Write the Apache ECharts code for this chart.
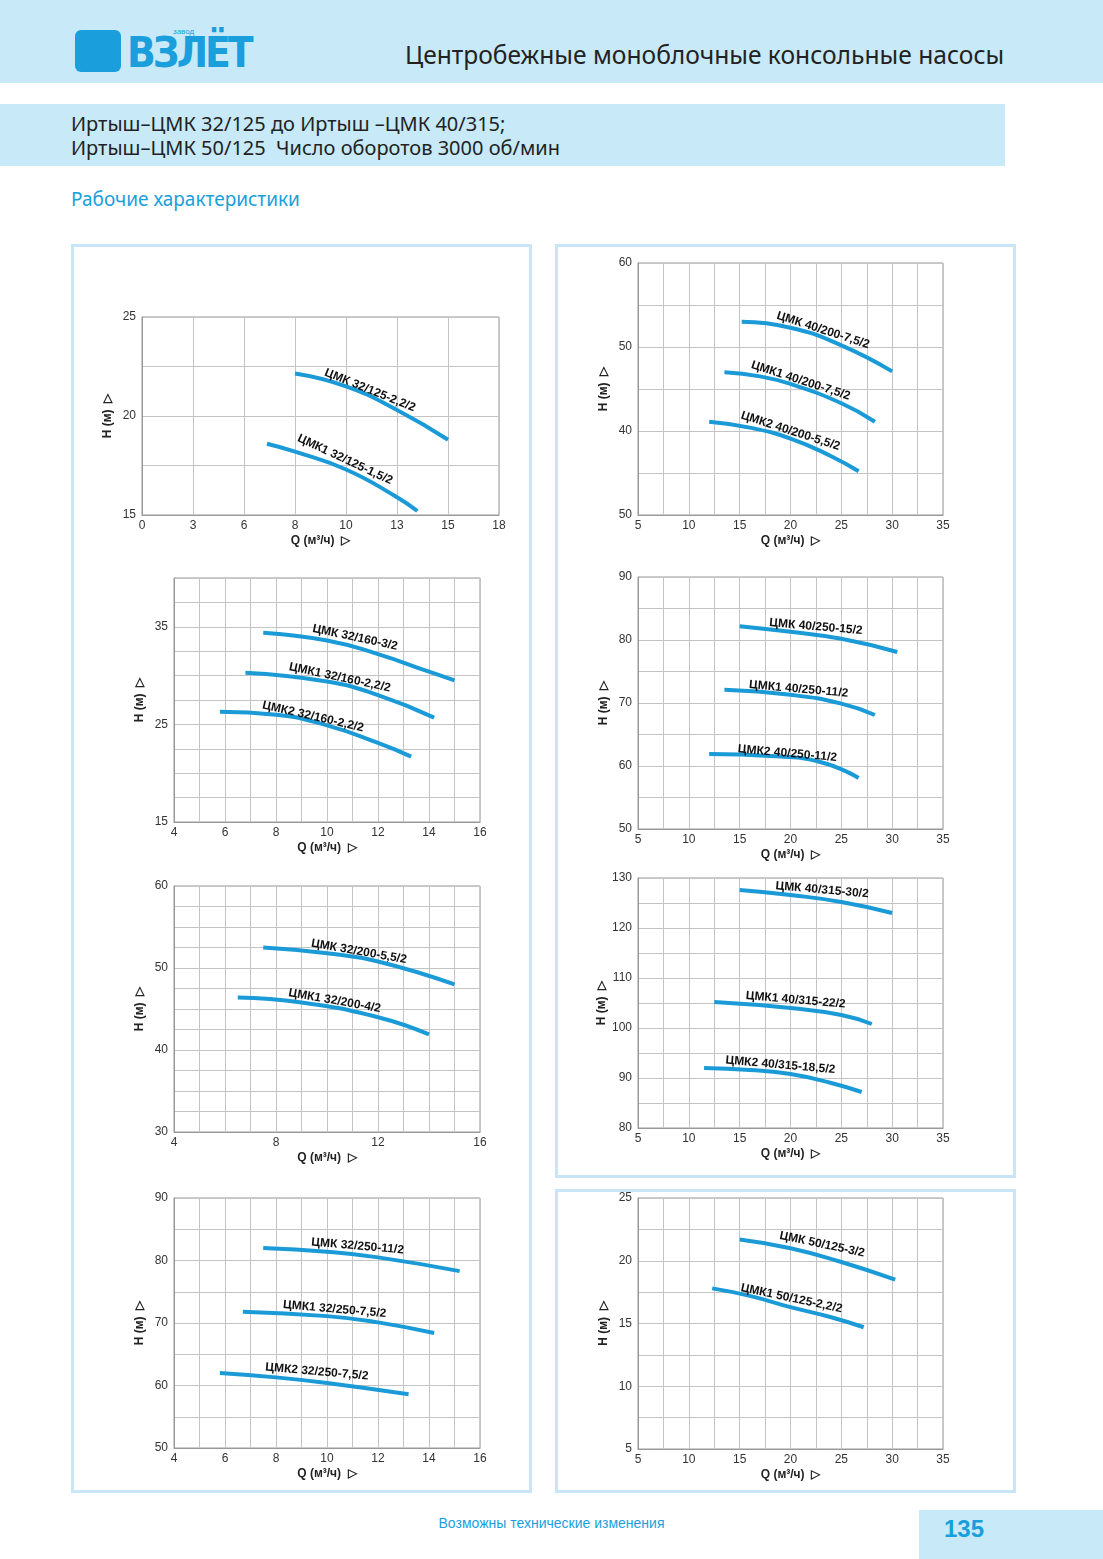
<!DOCTYPE html>
<html><head><meta charset="utf-8">
<script src="https://cdn.jsdelivr.net/npm/echarts@6/dist/echarts.min.js"></script>
<style>
body{margin:0;width:1103px;height:1559px;position:relative;background:#fff;font-family:"Liberation Sans",Arial,sans-serif;overflow:hidden}
.abs{position:absolute}
#chart{position:absolute;left:0;top:0;width:1103px;height:1559px}
</style></head><body>
<div class="abs" style="left:0;top:0;width:1103px;height:83px;background:#c8e9f8"></div>
<div class="abs" style="left:75px;top:30px;width:46px;height:42px;background:#1a9fdc;border-radius:6px"></div>
<div class="abs" style="left:127px;top:28px;font:bold 42px 'DejaVu Sans Condensed';color:#1a9fdc;letter-spacing:-3px">ВЗЛЁТ</div>
<div class="abs" style="left:173px;top:27px;font:8px 'Liberation Sans';color:#1a9fdc">завод</div>
<div class="abs" style="left:405px;top:38px;font:24.6px 'Noto Sans';color:#222">Центробежные моноблочные консольные насосы</div>
<div class="abs" style="left:0;top:104px;width:1005px;height:62px;background:#c8e9f8"></div>
<div class="abs" style="left:71px;top:112px;font:20px/24px 'Noto Sans';color:#222">Иртыш–ЦМК 32/125 до Иртыш –ЦМК 40/315;<br>Иртыш–ЦМК 50/125 &nbsp;Число оборотов 3000 об/мин</div>
<div class="abs" style="left:71px;top:186px;font:19px 'Noto Sans';color:#1a9fdc">Рабочие характеристики</div>
<div class="abs" style="left:71px;top:244px;width:455px;height:1243px;border:3px solid #c8e6f5"></div>
<div class="abs" style="left:555px;top:244px;width:455px;height:928px;border:3px solid #c8e6f5"></div>
<div class="abs" style="left:555px;top:1189px;width:455px;height:298px;border:3px solid #c8e6f5"></div>
<div class="abs" style="left:0;top:1515px;width:1103px;text-align:center;font:14px 'Liberation Sans';color:#1a9fdc">Возможны технические изменения</div>
<div class="abs" style="left:919px;top:1510px;width:184px;height:49px;background:#c8e9f8"></div>
<div class="abs" style="left:944px;top:1515px;font:bold 24px 'Liberation Sans';color:#1a9fdc">135</div>
<div id="chart"></div>
<script>
// ---- data ----
const A_xLabels=['0','3','6','8','10','13','15','18'];
const A_s1=[[3,22.15],[4,21.5],[5,20.3],[6,18.8]];
const A_s2=[[2.45,18.6],[3,18.2],[4,17.3],[5,15.9],[5.4,15.2]];
const B_s1=[[7.5,34.4],[10,33.6],[12,32.2],[14,30.4],[15,29.5]];
const B_s2=[[6.8,30.3],[10,29.4],[12,28],[14.2,25.7]];
const B_s3=[[5.8,26.3],[8,26],[10,24.9],[12,23.1],[13.3,21.7]];
const C_s1=[[7.5,52.5],[10,51.8],[12,50.8],[15,48]];
const C_s2=[[6.5,46.4],[9,45.8],[12,44],[14,41.9]];
const D_s1=[[7.5,82],[10,81.4],[12,80.5],[15.2,78.3]];
const D_s2=[[6.7,71.8],[10,71.1],[12,70.1],[14.2,68.4]];
const D_s3=[[5.8,62],[8,61.3],[10,60.4],[13.2,58.6]];
const E_s1=[[15.2,53],[20,52.3],[25,50.2],[30,47.1]];
const E_s2=[[13.5,47],[17,46.5],[20,45.6],[25,43.3],[28.3,41.1]];
const E_s3=[[12,41.1],[16,40.4],[20,39.1],[24,37],[26.7,35.2]];
const F_s1=[[15,82.2],[20,81.3],[25,80.2],[30.5,78.1]];
const F_s2=[[13.5,72.1],[20,71.3],[25,69.9],[28.3,68.1]];
const F_s3=[[12,61.9],[18,61.6],[23,60.6],[26.7,58.1]];
const G_s1=[[15,127.6],[20,126.6],[25,125.2],[30,123]];
const G_s2=[[12.5,105.2],[20,104],[25,102.6],[28,100.8]];
const G_s3=[[11.5,92],[16,91.6],[20,90.8],[24,89],[27,87.2]];
const H_s1=[[15,21.7],[20,21],[25,19.9],[30.3,18.5]];
const H_s2=[[12.3,17.8],[16,17.2],[20,16.3],[24,15.5],[27.2,14.7]];
const E_yLabels={30:'50',40:'40',50:'50',60:'60'};

const C='#1a9ad6';
const charts=[
 {g:[142,317,357,198],x:[0,7,1],xl:v=>A_xLabels[v]||'',y:[15,25,2.5],yl:v=>v%5===0?v:'',
  s:[[A_s1,'ЦМК 32/125-2,2/2',[4.47,21.3],-22],[A_s2,'ЦМК1 32/125-1,5/2',[3.98,17.8],-25]]},
 {g:[174,578,306,244],x:[4,16,1],xl:v=>v%2===0?v:'',y:[15,40,2.5],yl:v=>(v-15)%10===0?v:'',
  s:[[B_s1,'ЦМК 32/160-3/2',[11.1,33.9],-12],[B_s2,'ЦМК1 32/160-2,2/2',[10.5,29.8],-12],[B_s3,'ЦМК2 32/160-2,2/2',[9.45,25.8],-13]]},
 {g:[174,886,306,246],x:[4,16,1],xl:v=>v%4===0?v:'',y:[30,60,2.5],yl:v=>v%10===0?v:'',
  s:[[C_s1,'ЦМК 32/200-5,5/2',[11.25,52],-10],[C_s2,'ЦМК1 32/200-4/2',[10.3,46],-10]]},
 {g:[174,1198,306,250],x:[4,16,1],xl:v=>v%2===0?v:'',y:[50,90,5],yl:v=>v%10===0?v:'',
  s:[[D_s1,'ЦМК 32/250-11/2',[11.2,82.3],-5],[D_s2,'ЦМК1 32/250-7,5/2',[10.3,72.2],-5],[D_s3,'ЦМК2 32/250-7,5/2',[9.6,62.2],-5]]},
 {g:[638,263,305,252],x:[5,35,2.5],xl:v=>v%5===0?v:'',y:[30,60,5],yl:v=>E_yLabels[v]||'',
  s:[[E_s1,'ЦМК 40/200-7,5/2',[23.2,52],-18],[E_s2,'ЦМК1 40/200-7,5/2',[21,46],-18],[E_s3,'ЦМК2 40/200-5,5/2',[20,40],-18]]},
 {g:[638,577,305,252],x:[5,35,2.5],xl:v=>v%5===0?v:'',y:[50,90,5],yl:v=>v%10===0?v:'',
  s:[[F_s1,'ЦМК 40/250-15/2',[22.5,82.1],-5],[F_s2,'ЦМК1 40/250-11/2',[20.8,72.2],-5],[F_s3,'ЦМК2 40/250-11/2',[19.7,62],-5]]},
 {g:[638,878,305,250],x:[5,35,2.5],xl:v=>v%5===0?v:'',y:[80,130,5],yl:v=>v%10===0?v:'',
  s:[[G_s1,'ЦМК 40/315-30/2',[23.1,127.6],-5],[G_s2,'ЦМК1 40/315-22/2',[20.5,105.6],-5],[G_s3,'ЦМК2 40/315-18,5/2',[19,92.6],-5]]},
 {g:[638,1198,305,251],x:[5,35,2.5],xl:v=>v%5===0?v:'',y:[5,25,2.5],yl:v=>v%5===0?v:'',
  s:[[H_s1,'ЦМК 50/125-3/2',[23.1,21.3],-12],[H_s2,'ЦМК1 50/125-2,2/2',[20.1,17],-12]]}
];
const grid=[],xAxis=[],yAxis=[],series=[];
const lab={fontSize:12,color:'#333',fontFamily:'Liberation Sans'};
const nm={fontSize:12,fontWeight:'bold',color:'#222',fontFamily:'Liberation Sans'};
charts.forEach((c,i)=>{
 grid.push({left:c.g[0],top:c.g[1],width:c.g[2],height:c.g[3],show:true,borderColor:'#999',borderWidth:1});
 xAxis.push({type:'value',gridIndex:i,min:c.x[0],max:c.x[1],interval:c.x[2],name:'Q (м³/ч)  ▷',nameLocation:'middle',nameGap:20,nameTextStyle:nm,
  axisLine:{lineStyle:{color:'#999'}},axisTick:{show:false},splitLine:{lineStyle:{color:'#c4c4c4'}},
  axisLabel:Object.assign({formatter:c.xl,margin:5,showMinLabel:true,showMaxLabel:true},lab)});
 yAxis.push({type:'value',gridIndex:i,min:c.y[0],max:c.y[1],interval:c.y[2],name:'H (м)  ▷',nameLocation:'middle',nameGap:28,nameRotate:90,nameTextStyle:nm,
  axisLine:{lineStyle:{color:'#999'}},axisTick:{show:false},splitLine:{lineStyle:{color:'#c4c4c4'}},
  axisLabel:Object.assign({formatter:c.yl,margin:6,showMinLabel:true,showMaxLabel:true},lab)});
 c.s.forEach(s=>{
  series.push({type:'line',xAxisIndex:i,yAxisIndex:i,data:s[0],smooth:true,showSymbol:false,symbol:'none',
   lineStyle:{color:C,width:4},
   markPoint:{symbol:'circle',symbolSize:0,data:[{coord:s[2],label:{show:true,formatter:s[1],position:'inside',rotate:s[3],
    fontSize:12,fontWeight:'bold',color:'#111',fontFamily:'Liberation Sans Narrow, Liberation Sans'}}]}});
 });
});
const ch=echarts.init(document.getElementById('chart'));
ch.setOption({animation:false,grid,xAxis,yAxis,series});
</script></body></html>
